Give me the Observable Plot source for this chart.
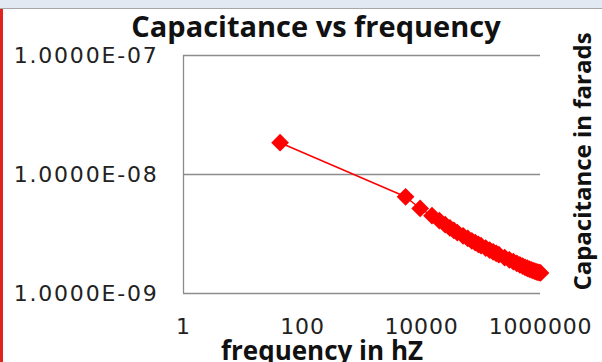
<!DOCTYPE html>
<html>
<head>
<meta charset="utf-8">
<script src="https://cdn.jsdelivr.net/npm/d3@7"></script>
<script src="https://cdn.jsdelivr.net/npm/@observablehq/plot@0.6"></script>
<style>
  html, body { margin: 0; padding: 0; background: #fff; }
  body { width: 602px; height: 362px; overflow: hidden; position: relative; }
  #band { height: 8px; background: #e3e9f2; border-bottom: 1px solid #a7a7a7; }
  #redline { position: absolute; left: 0; top: 9px; width: 3px; height: 353px; background: #e0231c; }
  #title { width: 632px; height: 33px; line-height: 33px; text-align: center;
           font-family: "Open Sans", sans-serif; font-weight: bold; font-size: 29px; color: #111; white-space: nowrap; }
  #chart svg { display: block; }
  #chart g[aria-label="y-axis tick label"] text { letter-spacing: 1.8px; }
  #chart g[aria-label="x-axis tick label"] text { letter-spacing: 0.8px; }
</style>
</head>
<body>
<div id="band"></div>
<div id="redline"></div>
<div id="title">Capacitance vs frequency</div>
<div id="chart"></div>
<script>
const frequency = [42, 5400, 9500, 15000, 20000, 25000, 30000, 35000, 40000, 50000, 60000, 70000, 80000, 90000, 100000,
  120000, 140000, 160000, 180000, 200000, 250000, 300000, 350000, 400000, 450000, 500000, 550000, 600000,
  650000, 700000, 750000, 800000, 850000, 900000, 950000, 1000000];
const capacitance = [1.85e-8, 6.5e-9, 5.18e-9, 4.51e-9, 4.09e-9, 3.79e-9, 3.56e-9, 3.39e-9, 3.25e-9, 3.05e-9, 2.90e-9, 2.77e-9, 2.68e-9, 2.59e-9, 2.52e-9,
  2.41e-9, 2.32e-9, 2.24e-9, 2.17e-9, 2.12e-9, 2.00e-9, 1.92e-9, 1.85e-9, 1.79e-9, 1.74e-9, 1.70e-9, 1.66e-9, 1.63e-9,
  1.60e-9, 1.58e-9, 1.56e-9, 1.54e-9, 1.52e-9, 1.51e-9, 1.50e-9, 1.49e-9];
const xTicks = [1, 100, 10000, 1000000];
const xTickLabels = ["1", "100", "10000", "1000000"];
const yTicks = [1e-9, 1e-8, 1e-7];
const yTickLabels = ["1.0000E-09", "1.0000E-08", "1.0000E-07"];
const xLabel = ["frequency in hZ"];
const yLabel = ["Capacitance in farads"];

const data = frequency.map((f, i) => ({f, c: capacitance[i]}));

const chart = Plot.plot({
  width: 602,
  height: 320,
  marginLeft: 183,
  marginRight: 62,
  marginTop: 13,
  marginBottom: 69,
  style: {fontFamily: "DejaVu Sans, sans-serif", fontSize: "22px", color: "#222", overflow: "visible"},
  x: {type: "log", domain: [1, 1e6]},
  y: {type: "log", domain: [1e-9, 1e-7]},
  marks: [
    Plot.ruleY(yTicks, {stroke: "#8c8c8c", strokeWidth: 1.3}),
    Plot.ruleX([1], {stroke: "#8c8c8c", strokeWidth: 1.3}),
    Plot.axisY({ticks: yTicks, tickFormat: (d) => yTickLabels[yTicks.indexOf(d)], tickSize: 0, tickPadding: 25, label: null, fill: "#222"}),
    Plot.axisX({ticks: xTicks, tickFormat: (d) => xTickLabels[xTicks.indexOf(d)], tickSize: 0, tickPadding: 25, label: null, fill: "#222"}),
    Plot.line(data, {x: "f", y: "c", stroke: "#ff0000", strokeWidth: 1.5}),
    Plot.dot(data, {x: "f", y: "c", symbol: "diamond2", r: 8, fill: "#ff0000", stroke: "none"}),
    Plot.text(xLabel, {text: d => d, frameAnchor: "bottom", lineAnchor: "middle", textAnchor: "middle", dx: -40, dy: 58,
      fontSize: 26, fontWeight: "bold", fontFamily: "Open Sans, sans-serif", fill: "#111"}),
    Plot.text(yLabel, {text: d => d, frameAnchor: "right", lineAnchor: "middle", textAnchor: "middle", dx: 43, dy: -13, rotate: -90,
      fontSize: 24, fontWeight: "bold", fontFamily: "Open Sans, sans-serif", fill: "#111"})
  ]
});
document.getElementById("chart").appendChild(chart);
</script>
</body>
</html>
